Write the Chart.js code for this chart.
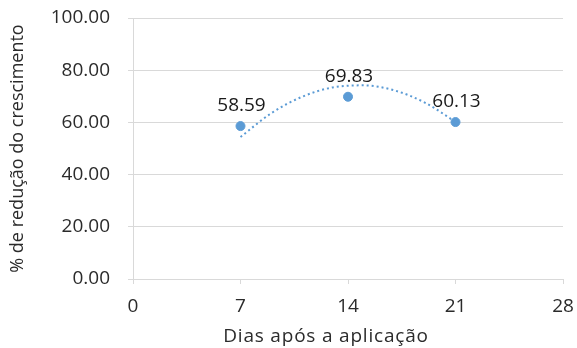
<!DOCTYPE html>
<html>
<head>
<meta charset="utf-8">
<script src="https://cdn.jsdelivr.net/npm/chart.js@4.4.1/dist/chart.umd.min.js"></script>
<style>
  html, body { margin: 0; padding: 0; background: #fff; }
  #wrap { width: 577px; height: 348px; }
</style>
</head>
<body>
<div id="wrap"><canvas id="grafico"></canvas></div>
<script>
// dados
const dias = [7, 14, 21];
const reducao = [58.59, 69.83, 60.13];

// linha de tendência (pontilhada)
const tendenciaDias = [7, 9, 11, 13, 15, 17, 19, 21];
const tendenciaValores = [54.4, 63.5, 69.8, 73.4, 74.2, 72.3, 67.6, 60.2];

const xTicks = [0, 7, 14, 21, 28];
const yTicks = [0, 20, 40, 60, 80, 100];

const tituloX = 'Dias após a aplicação';
const tituloY = '% de redução do crescimento';

const fonte = "'Open Sans', sans-serif";
const corTexto = '#2b2b2b';
const corGrade = '#d9d9d9';
const azul = '#5B9BD5';

// rótulos de dados acima dos pontos + título do eixo x (centrado no gráfico todo)
const rotulos = {
  id: 'rotulos',
  afterDatasetsDraw(chart) {
    const ctx = chart.ctx;
    const meta = chart.getDatasetMeta(1);
    ctx.save();
    ctx.font = '19px ' + fonte;
    ctx.fillStyle = '#1a1a1a';
    ctx.textAlign = 'center';
    ctx.textBaseline = 'bottom';
    meta.data.forEach((p, i) => {
      ctx.fillText(reducao[i].toFixed(2), p.x + 1, p.y - 11);
    });
    ctx.fillStyle = corTexto;
    ctx.textBaseline = 'middle';
    ctx.letterSpacing = '0.8px';
    ctx.fillText(tituloX, chart.width * 0.565, 337);
    ctx.restore();
  }
};

const ctx = document.getElementById('grafico').getContext('2d');
const grafico = new Chart(ctx, {
  type: 'scatter',
  data: {
    datasets: [
      {
        label: 'Tendência',
        data: tendenciaDias.map((d, i) => ({ x: d, y: tendenciaValores[i] })),
        showLine: true,
        borderColor: azul,
        borderWidth: 2,
        borderDash: [2, 3],
        pointRadius: 0,
        tension: 0.4,
        cubicInterpolationMode: 'monotone',
        fill: false
      },
      {
        label: '% de redução',
        data: dias.map((d, i) => ({ x: d, y: reducao[i] })),
        backgroundColor: azul,
        borderColor: azul,
        pointRadius: 4.5,
        pointHoverRadius: 4.5
      }
    ]
  },
  options: {
    responsive: true,
    maintainAspectRatio: false,
    animation: false,
    layout: { padding: { left: 0, right: 14, top: 18, bottom: 0 } },
    plugins: {
      legend: { display: false },
      tooltip: { enabled: false }
    },
    scales: {
      x: {
        type: 'linear',
        min: 0,
        max: 28,
        afterBuildTicks: (s) => { s.ticks = xTicks.map(v => ({ value: v })); },
        afterFit: (s) => { s.height = 69; s.paddingLeft = 0; s.paddingRight = 0; },
        ticks: { color: corTexto, font: { family: fonte, size: 19 }, padding: 11 },
        grid: { drawOnChartArea: false, drawTicks: true, tickLength: 5, color: corGrade },
        border: { color: corGrade },
        title: { display: false }
      },
      y: {
        min: 0,
        max: 100,
        afterBuildTicks: (s) => { s.ticks = yTicks.map(v => ({ value: v })); },
        afterFit: (s) => { s.width = 133; s.paddingTop = 0; s.paddingBottom = 0; },
        ticks: {
          color: corTexto,
          font: { family: fonte, size: 19 },
          padding: 18,
          callback: (v) => Number(v).toFixed(2)
        },
        grid: { color: corGrade, tickLength: 5 },
        border: { color: corGrade },
        title: {
          display: true,
          text: tituloY,
          color: corTexto,
          font: { family: fonte, size: 18 },
          padding: { top: 7, bottom: 0 }
        }
      }
    }
  },
  plugins: [rotulos]
});
</script>
</body>
</html>
